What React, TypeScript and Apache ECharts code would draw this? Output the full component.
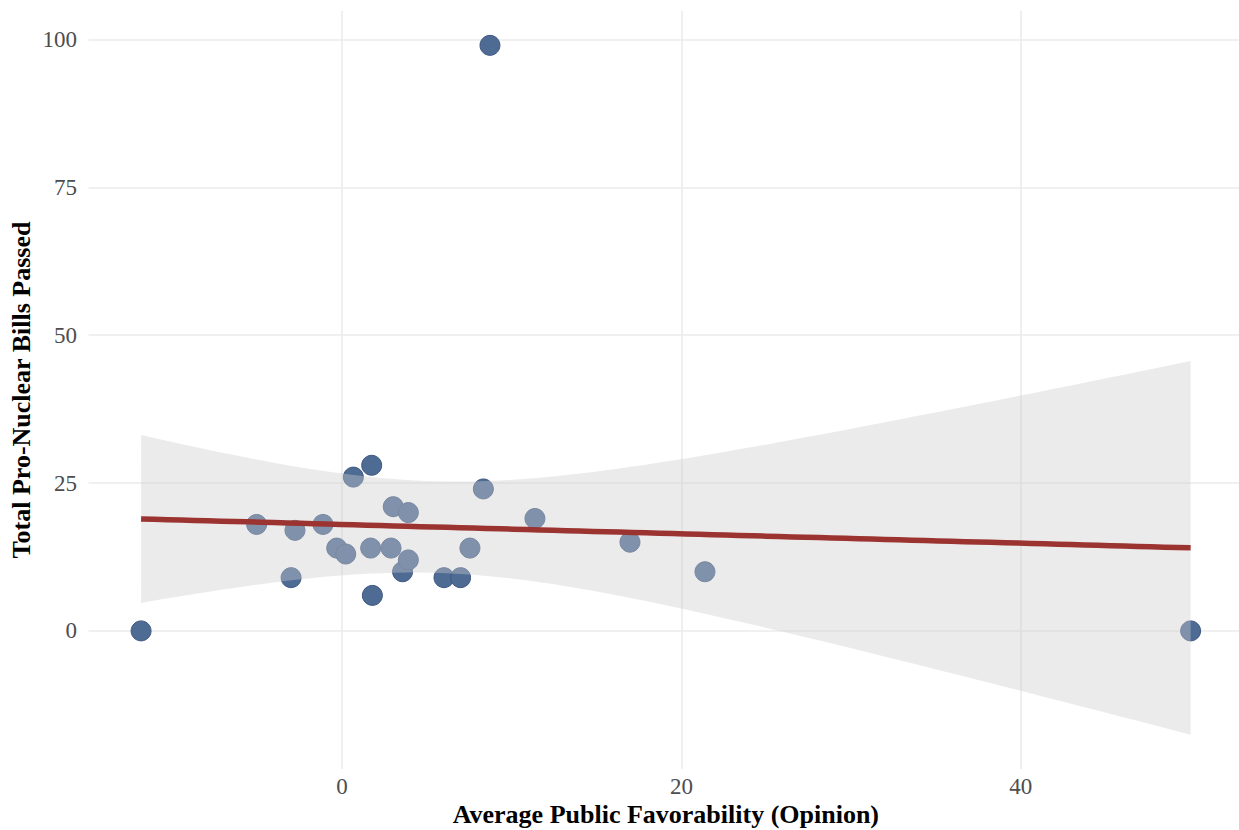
import React, { useEffect, useRef } from "react";
import * as echarts from "echarts";

// Average public favorability (x) and total pro-nuclear bills passed (y), one entry per point
const favorability: number[] = [
  -11.84, -5.03, -3.0, -2.77, -1.12, -0.31, 0.22, 0.67, 1.75, 1.79, 1.69, 2.89, 3.02,
  3.57, 3.91, 3.91, 6.01, 6.99, 7.54, 8.33, 8.72, 11.37, 16.97, 21.39, 50.01,
];
const billsPassed: number[] = [
  0, 18, 9, 17, 18, 14, 13, 26, 28, 6, 14, 14, 21, 10, 20, 12, 9, 9, 14, 24, 99, 19, 15, 10, 0,
];

const xTickValues: number[] = [0, 20, 40];
const yTickValues: number[] = [0, 25, 50, 75, 100];

const xTitle = "Average Public Favorability (Opinion)";
const yTitle = "Total Pro-Nuclear Bills Passed";

// geom_smooth(method = "lm"): 95% confidence band, t quantile for df = n - 2 = 23
const T_QUANTILE = 2.0687;
const SMOOTH_N = 80;

function fitLinearModel(xs: number[], ys: number[]) {
  const n = xs.length;
  const mx = xs.reduce((a, b) => a + b, 0) / n;
  const my = ys.reduce((a, b) => a + b, 0) / n;
  let sxx = 0;
  let sxy = 0;
  for (let i = 0; i < n; i++) {
    sxx += (xs[i] - mx) * (xs[i] - mx);
    sxy += (xs[i] - mx) * (ys[i] - my);
  }
  const slope = sxy / sxx;
  const intercept = my - slope * mx;
  let rss = 0;
  for (let i = 0; i < n; i++) {
    const r = ys[i] - (intercept + slope * xs[i]);
    rss += r * r;
  }
  const s = Math.sqrt(rss / (n - 2));
  const xmin = Math.min(...xs);
  const xmax = Math.max(...xs);
  const out: number[][] = [];
  for (let i = 0; i < SMOOTH_N; i++) {
    const x = xmin + ((xmax - xmin) * i) / (SMOOTH_N - 1);
    const fit = intercept + slope * x;
    const se = s * Math.sqrt(1 / n + ((x - mx) * (x - mx)) / sxx);
    out.push([x, fit, fit - T_QUANTILE * se, fit + T_QUANTILE * se]);
  }
  return out;
}

const FONT = "'Liberation Serif', 'Times New Roman', serif";

export default function App() {
  const ref = useRef<HTMLDivElement>(null);

  useEffect(() => {
    if (!ref.current) return;
    const chart = echarts.init(ref.current, undefined, { renderer: "svg" });

    const smooth = fitLinearModel(favorability, billsPassed);
    const points = favorability.map((x, i) => [x, billsPassed[i]]);

    // ggplot-style 5% expansion of the data range
    const xLo = Math.min(...favorability);
    const xHi = Math.max(...favorability);
    const yLo = Math.min(...billsPassed, ...smooth.map((d) => d[2]));
    const yHi = Math.max(...billsPassed, ...smooth.map((d) => d[3]));
    const xPad = (xHi - xLo) * 0.05;
    const yPad = (yHi - yLo) * 0.05;

    const gridColor = "#ebebeb";

    chart.setOption({
      animation: false,
      backgroundColor: "#ffffff",
      grid: {
        left: 88.6,
        right: -4.1,
        top: 10.9,
        bottom: 60.9,
        containLabel: false,
        outerBoundsMode: "none",
      },
      xAxis: {
        type: "value",
        min: xLo - xPad,
        max: xHi + xPad,
        axisLine: { show: false },
        axisTick: { show: false, customValues: xTickValues },
        axisLabel: {
          customValues: xTickValues,
          formatter: (v: number) => String(v),
          color: "#4d4d4d",
          fontFamily: FONT,
          fontSize: 23,
          lineHeight: 19,
          margin: 7.5,
        },
        splitLine: { show: true, lineStyle: { color: gridColor, width: 1.6 } },
        name: xTitle,
        nameLocation: "middle",
        nameGap: 32.5,
        nameMoveOverlap: false,
        nameTextStyle: { color: "#000000", fontFamily: FONT, fontWeight: "bold", fontSize: 26 },
      },
      yAxis: {
        type: "value",
        min: yLo - yPad,
        max: yHi + yPad,
        axisLine: { show: false },
        axisTick: { show: false, customValues: yTickValues },
        axisLabel: {
          customValues: yTickValues,
          formatter: (v: number) => String(v),
          color: "#4d4d4d",
          fontFamily: FONT,
          fontSize: 23,
          margin: 11.6,
        },
        splitLine: { show: true, lineStyle: { color: gridColor, width: 1.6 } },
        name: yTitle,
        nameLocation: "middle",
        nameGap: 54,
        nameMoveOverlap: false,
        nameTextStyle: { color: "#000000", fontFamily: FONT, fontWeight: "bold", fontSize: 26 },
      },
      series: [
        {
          type: "scatter",
          z: 2,
          data: points,
          symbol: "circle",
          symbolSize: 20,
          itemStyle: { color: "#4e6b94", borderColor: "#3f5882", borderWidth: 1, opacity: 1 },
          emphasis: { disabled: true },
        },
        {
          type: "custom",
          z: 3,
          silent: true,
          clip: false,
          data: [[smooth[0][0], smooth[0][1]]],
          renderItem: (_params: any, api: any) => {
            const upper = smooth.map((d) => api.coord([d[0], d[3]]));
            const lower = smooth.map((d) => api.coord([d[0], d[2]])).reverse();
            return {
              type: "polygon",
              shape: { points: upper.concat(lower) },
              style: { fill: "rgba(204,204,204,0.4)", stroke: "none" },
            };
          },
        },
        {
          type: "line",
          z: 4,
          data: smooth.map((d) => [d[0], d[1]]),
          showSymbol: false,
          symbol: "none",
          lineStyle: { color: "#9b3430", width: 5.5 },
          emphasis: { disabled: true },
        },
      ],
    });

    return () => chart.dispose();
  }, []);

  return (
    <div
      ref={ref}
      style={{ position: "fixed", left: 0, top: 0, width: 1239, height: 830, background: "#ffffff" }}
    />
  );
}
